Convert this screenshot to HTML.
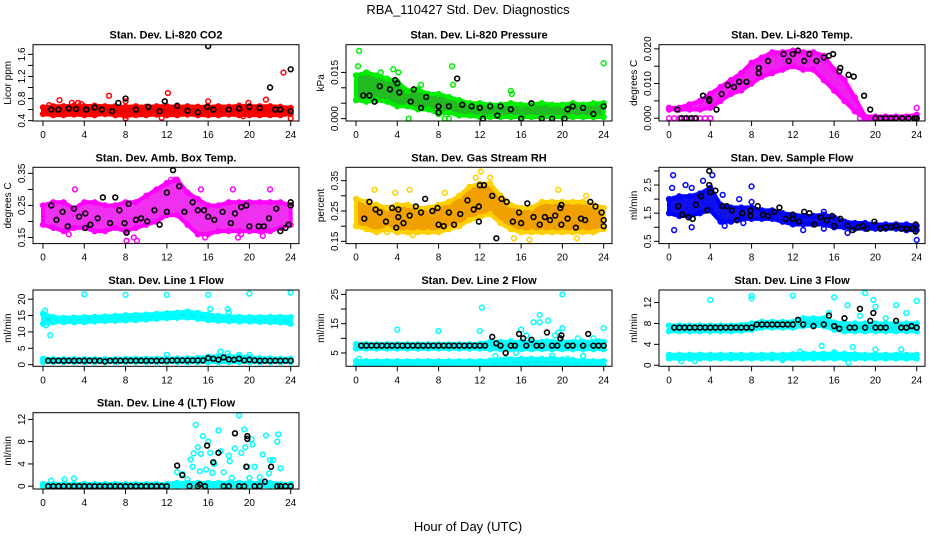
<!DOCTYPE html>
<html><head><meta charset="utf-8">
<style>
html,body{margin:0;padding:0;background:#fff;}
svg{display:block;font-family:"Liberation Sans",Arial,sans-serif;}
</style></head>
<body>
<svg id="chart" width="936" height="540" viewBox="0 0 936 540" xmlns="http://www.w3.org/2000/svg">
<text x="468" y="14" text-anchor="middle" font-size="13">RBA_110427  Std. Dev. Diagnostics</text>
<text x="468" y="531" text-anchor="middle" font-size="13">Hour of Day (UTC)</text>
</svg>
<script>
const BAND_H=[0,1,2,3,4,5,6,7,8,9,10,11,12,13,14,15,16,17,18,19,20,21,22,23,24];
const X_TICKS=[0,4,8,12,16,20,24];

// Panel 1 CO2
const co2Lo=[0.52,0.5,0.5,0.51,0.5,0.5,0.52,0.5,0.49,0.5,0.5,0.51,0.5,0.5,0.51,0.5,0.5,0.5,0.51,0.5,0.5,0.5,0.5,0.5,0.52];
const co2Hi=[0.64,0.66,0.66,0.67,0.66,0.67,0.66,0.66,0.65,0.66,0.65,0.66,0.66,0.65,0.66,0.65,0.65,0.66,0.65,0.67,0.66,0.66,0.66,0.65,0.63];
const co2Extra=[[1.6,0.77],[2.8,0.72],[3.4,0.72],[6.4,0.85],[8,0.75],[12.1,0.9],[14,0.52],[16,0.75],[19.9,0.72],[21.6,0.78],[23.3,1.27],[24,0.44],[8,0.44],[11.5,0.45],[19.4,0.48],[0.6,0.68],[3.7,0.7]];
const co2Blk=[[0.8,0.6],[1.5,0.6],[2.5,0.62],[3.2,0.61],[4.2,0.6],[5,0.64],[5.7,0.6],[6.7,0.57],[7.3,0.72],[8,0.8],[9,0.6],[10.2,0.65],[11.3,0.57],[11.8,0.75],[13,0.67],[14,0.58],[15,0.55],[15.9,0.65],[16,1.75],[16.5,0.6],[18,0.6],[19,0.62],[20,0.65],[21,0.63],[22,1.0],[22.5,0.6],[23,0.6],[24,1.33],[24,0.57]];
const co2Ticks=[0.4,0.6,0.8,1.0,1.2,1.4,1.6];
const co2Labels=["0.4","","0.8","","1.2","","1.6"];

// Panel 2 Pressure
const presLo=[0.006,0.0055,0.006,0.0055,0.004,0.004,0.003,0.003,0.0015,0.002,0.001,0.001,0.0005,0.0005,0.0005,0.0005,0.0005,0.0005,0.0005,0.0005,0.0005,0.0005,0.0005,0.0005,0.0005];
const presHi=[0.014,0.015,0.014,0.013,0.012,0.009,0.0095,0.008,0.008,0.007,0.006,0.005,0.005,0.0045,0.0045,0.005,0.0045,0.0045,0.005,0.0045,0.0045,0.005,0.0045,0.005,0.005];
const presExtra=[[0.3,0.022],[0.2,0.017],[3.6,0.016],[9.3,0.017],[9.4,0.011],[5.1,0],[8.6,0],[9,0],[15,0.009],[15.1,0.008],[24,0.018],[2.4,0.015],[4.1,0.015],[6.3,0.011]];
const presBlk=[[0.7,0.0075],[1.3,0.0075],[1.8,0.0055],[2.3,0.0105],[3.3,0.0095],[3.8,0.0125],[4,0.0115],[4.2,0.0085],[5.3,0.0055],[5.6,0.0095],[6.3,0.0035],[6.8,0.007],[8,0.004],[8,0.002],[9,0.004],[9.8,0.013],[10.3,0.0045],[11.2,0.004],[12,0.0035],[12.3,0],[13,0.004],[13.7,0.001],[14,0.004],[15,0.003],[16,0],[17,0.005],[18,0],[19,0],[20.2,0],[20.5,0.003],[21,0.004],[22,0.0035],[23,0.0015],[24,0.004]];
const presTicks=[0,0.005,0.010,0.015];
const presLabels=["0.000","","","0.015"];

// Panel 3 Temp
const tempLo=[0.0025,0.0025,0.0025,0.0025,0.003,0.005,0.007,0.008,0.010,0.012,0.013,0.014,0.015,0.014,0.014,0.011,0.008,0.005,0.002,0,0,0,0,0,0];
const tempHi=[0.003,0.003,0.004,0.005,0.007,0.009,0.011,0.013,0.016,0.0175,0.019,0.019,0.0195,0.019,0.019,0.018,0.014,0.011,0.006,0.0005,0.0005,0.0005,0.0005,0.0005,0.001];
const tempExtra=[[0,0],[0.5,0],[1,0],[1.5,0],[2,0],[2.5,0],[3,0],[3.5,0],[4,0],[18.5,0],[19,0],[19.5,0],[20,0],[21,0],[22,0],[23,0],[24,0],[24,0.003]];
const tempBlk=[[0.8,0.0025],[1.2,0],[1.7,0],[2.2,0],[2.6,0],[3.3,0.0065],[3.9,0.0055],[3.9,0.005],[4.6,0.0025],[5.1,0.007],[5.7,0.0095],[6.3,0.009],[6.8,0.0105],[7.5,0.0105],[8.7,0.013],[8.7,0.0145],[9.6,0.0165],[11.1,0.0185],[11.6,0.0165],[12,0.0185],[12.5,0.0195],[13.1,0.0165],[13.6,0.0185],[14.3,0.0165],[15,0.0175],[15.5,0.018],[15.9,0.0185],[16.5,0.0135],[16.6,0.0145],[17.4,0.0125],[17.9,0.012],[18.9,0.0065],[19.5,0.0025],[20,0],[20.5,0],[21,0],[21.5,0],[22,0],[22.6,0],[23.2,0],[23.8,0],[24,0]];
const tempTicks=[0,0.005,0.010,0.015,0.020];
const tempLabels=["0.000","","0.010","","0.020"];

// Panel 4 Amb box temp
const ambLo=[0.19,0.18,0.17,0.18,0.18,0.17,0.17,0.18,0.17,0.18,0.19,0.20,0.22,0.22,0.19,0.16,0.16,0.17,0.17,0.17,0.17,0.17,0.17,0.18,0.19];
const ambHi=[0.25,0.26,0.26,0.24,0.26,0.26,0.25,0.25,0.26,0.26,0.28,0.30,0.32,0.33,0.29,0.27,0.25,0.25,0.26,0.26,0.26,0.26,0.26,0.26,0.25];
const ambExtra=[[3.1,0.30],[8.1,0.14],[9.1,0.14],[8.8,0.15],[12.4,0.33],[12.8,0.33],[15.3,0.30],[15.7,0.15],[18.4,0.30],[18.9,0.15],[22,0.30],[21.3,0.155],[2.5,0.16],[19.2,0.16]];
const ambBlk=[[0.8,0.25],[1.3,0.205],[1.9,0.23],[2.4,0.185],[3.0,0.24],[3.5,0.215],[4.1,0.225],[4.1,0.18],[4.6,0.19],[5.3,0.21],[5.8,0.275],[6.5,0.195],[7.0,0.275],[7.4,0.235],[7.9,0.195],[8.1,0.165],[8.3,0.255],[9.0,0.205],[9.5,0.21],[10.1,0.2],[10.8,0.235],[11.3,0.19],[12,0.29],[12,0.23],[12.6,0.36],[13.2,0.31],[13.7,0.23],[14.5,0.26],[15.0,0.235],[15.6,0.235],[16.0,0.215],[16.6,0.205],[17.4,0.23],[18.2,0.195],[18.6,0.225],[19.2,0.245],[19.7,0.25],[20.0,0.185],[20.9,0.185],[21.4,0.185],[21.9,0.21],[22.6,0.24],[23,0.17],[23.5,0.18],[23.8,0.19],[24,0.26],[24,0.25]];
const ambTicks=[0.15,0.20,0.25,0.30,0.35];
const ambLabels=["0.15","","0.25","","0.35"];

// Panel 5 Gas stream RH
const rhLo=[0.2,0.19,0.18,0.19,0.18,0.18,0.18,0.18,0.18,0.19,0.2,0.22,0.23,0.24,0.21,0.19,0.18,0.18,0.18,0.18,0.18,0.18,0.18,0.18,0.19];
const rhHi=[0.29,0.28,0.27,0.26,0.27,0.27,0.26,0.26,0.27,0.28,0.3,0.33,0.34,0.34,0.3,0.27,0.26,0.26,0.28,0.28,0.28,0.28,0.28,0.27,0.26];
const rhExtra=[[1.8,0.32],[3.8,0.31],[5.2,0.32],[8.6,0.31],[12.1,0.38],[13,0.36],[11.6,0.36],[15.3,0.16],[16.8,0.155],[19.6,0.32],[21.4,0.16],[22.3,0.3],[3,0.18],[5.5,0.17]];
const rhBlk=[[0.8,0.225],[1.3,0.28],[1.9,0.255],[2.3,0.245],[2.9,0.215],[3.5,0.26],[3.9,0.195],[4.1,0.23],[4.1,0.255],[4.6,0.21],[5.2,0.235],[5.8,0.265],[6.3,0.245],[6.7,0.29],[7.4,0.25],[7.9,0.26],[8,0.205],[8.5,0.2],[9,0.245],[9.5,0.205],[10.1,0.24],[10.8,0.285],[11.4,0.255],[11.9,0.265],[11.9,0.215],[12,0.335],[12.4,0.335],[13.2,0.3],[13.6,0.16],[14.1,0.29],[14.6,0.28],[15.2,0.215],[15.8,0.245],[16,0.21],[16.6,0.275],[17.2,0.23],[17.8,0.205],[18.3,0.23],[18.8,0.22],[19.3,0.235],[19.8,0.26],[19.9,0.205],[19.9,0.27],[20.5,0.225],[21.3,0.195],[21.8,0.225],[22.2,0.22],[22.7,0.28],[23.2,0.265],[23.8,0.245],[24,0.22],[24,0.2]];
const rhTicks=[0.15,0.20,0.25,0.30,0.35];
const rhLabels=["0.15","","0.25","","0.35"];

// Panel 6 Sample flow
const sfLo=[1.5,1.4,1.4,1.5,1.6,1.2,1.2,1.3,1.3,1.3,1.3,1.2,1.1,1.1,1.1,1.1,1.0,1.0,0.95,0.95,0.95,0.95,0.95,0.9,0.9];
const sfHi=[2.0,2.1,2.1,2.2,2.4,1.8,1.7,1.7,1.7,1.6,1.6,1.5,1.45,1.4,1.4,1.45,1.35,1.2,1.15,1.15,1.1,1.1,1.1,1.1,1.05];
const sfExtra=[[0.4,2.85],[0.3,2.4],[0.5,0.9],[1.6,2.5],[2.2,1.0],[2.2,2.4],[3.3,2.65],[4.2,2.85],[5.2,2.15],[6.8,2.0],[8.0,2.45],[8.0,1.9],[7.2,1.15],[13,0.9],[15,1.55],[15,0.95],[17.3,0.8],[24,0.55],[5.4,1.05]];
const sfBlk=[[0.9,1.75],[1.3,1.45],[1.9,1.35],[2.3,1.3],[2.6,1.8],[3.1,2.1],[3.7,1.6],[3.9,3.0],[3.9,2.5],[4.0,2.25],[4.5,2.3],[5.2,1.75],[5.6,1.75],[6.1,1.6],[6.6,1.25],[7.1,1.5],[7.9,1.6],[7.9,1.4],[8.6,1.75],[9.1,1.45],[9.6,1.4],[10.2,1.55],[10.7,1.7],[11.3,1.3],[12,1.45],[12,1.3],[12.6,1.2],[13.1,1.55],[13.6,1.5],[14.1,1.1],[14.7,1.35],[15.3,1.25],[15.8,1.4],[16,1.05],[16.6,1.3],[17.3,1.05],[17.8,0.9],[18.3,1.0],[18.8,1.05],[19.2,0.95],[19.9,1.2],[20.5,0.95],[21,1.0],[21.5,1.0],[22,1.05],[22.5,0.95],[23,0.95],[23.6,0.95],[23.9,1.1],[23.9,0.85]];
const sfTicks=[0.5,1.0,1.5,2.0,2.5,3.0];
const sfLabels=["0.5","","1.5","","2.5",""];

// Panel 7 Line 1 flow
const l1UpLo=[12.5,13,13,13,13,13.2,13.3,13.4,13.5,13.6,13.8,14,14.2,14.3,14.4,14,13.6,13.4,13.3,13.2,13.2,13.1,13,12.9,12.5];
const l1UpHi=[15.5,14.5,14.3,14.4,14.5,14.6,14.7,14.9,15.1,15.2,15.3,15.5,15.7,15.9,16.2,15.8,15.3,14.9,14.7,14.6,14.5,14.5,14.6,14.6,14.5];
const l1LowLo=[0.8,0.8,0.8,0.8,0.8,0.8,0.8,0.8,0.8,0.8,0.8,0.8,0.8,0.8,0.8,0.8,0.8,0.8,0.8,0.8,0.8,0.8,0.8,0.8,0.8];
const l1LowHi=[1.8,1.7,1.7,1.7,1.7,1.7,1.7,1.7,1.8,1.8,1.8,1.8,1.9,1.9,1.9,2.0,2.4,2.6,2.5,2.4,2.2,2.0,1.9,1.8,1.8];
const l1Extra=[[0.3,12],[0.7,9],[0.2,16.5],[4,21.5],[8,21.3],[12,21.3],[16,21.3],[20,21.7],[24,22],[16.2,17],[17.9,17],[18,16],[12,3],[17.2,4],[17.9,3.5],[19,3],[20,3]];
const l1Blk=[[0.5,1.2],[1,1.2],[1.5,1.2],[2,1.2],[2.5,1.2],[3,1.2],[3.5,1.2],[4,1.2],[4.5,1.2],[5,1.2],[5.5,1.2],[6,1.0],[6.5,1.2],[7,1.2],[7.5,1.2],[8,1.2],[8.5,1.2],[9,1.2],[9.5,1.2],[10,1.2],[10.5,1.2],[11,1.2],[11.5,1.2],[12,1.2],[12.5,1.3],[13,1.3],[13.5,1.3],[14,1.3],[14.5,1.3],[15,1.3],[15.5,1.3],[16,2.0],[16.5,1.8],[17,1.5],[17.5,2.2],[18,1.6],[18.5,1.5],[19,1.8],[19.5,1.3],[20,1.5],[20.5,1.3],[21,1.2],[21.5,1.2],[22,1.2],[22.5,1.2],[23,1.2],[23.5,1.2],[24,1.2]];
const l1Ticks=[0,5,10,15,20];
const l1Labels=["0","5","10","15","20"];

// Panel 8 Line 2 flow
const l2UpLo=[6.5,6.5,6.5,6.5,6.5,6.5,6.5,6.5,6.5,6.5,6.5,6.5,6.5,6.3,6.3,6.3,6.3,6.3,6.3,6.3,6.3,6.3,6.3,6.3,6.3];
const l2UpHi=[8.0,8.0,8.0,8.0,8.0,8.0,8.0,8.0,8.0,8.0,8.0,8.0,8.2,8.8,8.8,8.8,8.8,8.8,8.8,8.8,8.8,8.8,8.8,8.8,8.8];
const l2LowLo=[0.6,0.6,0.6,0.6,0.6,0.6,0.6,0.6,0.6,0.6,0.6,0.6,0.6,0.6,0.6,0.6,0.6,0.6,0.6,0.6,0.6,0.6,0.6,0.6,0.6];
const l2LowHi=[2.2,2.2,2.2,2.2,2.2,2.2,2.2,2.2,2.2,2.2,2.2,2.2,2.2,2.4,2.6,2.8,3.0,3.0,3.0,3.0,2.8,2.6,2.4,2.2,2.2];
const l2Extra=[[0.3,3],[4,13],[8,12.5],[12,12.5],[12.2,20.5],[14.5,3],[15.5,5],[16,13],[16.5,11],[17.2,15.5],[17.8,18],[17.8,15.5],[18.6,16],[19,4],[19.6,12],[20,25],[20,13.5],[20.5,3],[21,8],[22,4],[23,10],[24,13.5],[13.5,4],[15,9],[18.5,9],[19.3,11],[21.5,10],[23.5,9]];
const l2Blk=[[0.5,7.5],[1,7.5],[1.5,7.5],[2,7.5],[2.5,7.5],[3,7.5],[3.5,7.5],[4,7.5],[4.5,7.5],[5,7.5],[5.5,7.5],[6,7.5],[6.5,7.5],[7,7.5],[7.5,7.5],[8,7.5],[8.5,7.5],[9,7.5],[9.5,7.5],[10,7.5],[10.5,7.5],[11,7.5],[11.5,7.5],[12,7.5],[12.5,7.5],[13.2,10.5],[13.6,8.3],[14,7.5],[14.5,5],[15,7.5],[15.4,7.5],[15.8,11.5],[16.2,10],[16.5,7.5],[17,9.5],[17.5,7.5],[18,7.5],[18.5,12],[19,7.5],[19.5,7.5],[19.8,10],[19.9,11],[20.5,7.5],[21,7.5],[22,7.5],[22.5,11.5],[23,7.5],[23.5,7.5],[24,7.5]];
const l2Ticks=[5,10,15,20,25];
const l2Labels=["5","","15","","25"];

// Panel 9 Line 3 flow
const l3UpLo=[6.5,6.5,6.5,6.5,6.5,6.5,6.5,6.6,6.8,7.2,7.2,7.2,7.2,7.5,7.5,7.5,6.8,6.5,6.5,6.5,6.5,6.5,6.5,6.5,6.5];
const l3UpHi=[7.6,7.6,7.6,7.6,7.6,7.6,7.6,7.7,8.0,8.3,8.3,8.3,8.3,9.0,9.0,9.0,8.2,8.0,8.0,8.0,8.0,8.0,8.0,8.0,8.0];
const l3LowLo=[1.3,1.3,1.3,1.3,1.3,1.3,1.3,1.3,1.3,1.3,1.3,1.3,1.3,1.3,1.3,1.3,1.3,1.3,1.3,1.3,1.3,1.3,1.3,1.3,1.3];
const l3LowHi=[2.0,2.0,2.0,2.0,2.0,2.0,2.0,2.0,2.0,2.0,2.0,2.0,2.1,2.2,2.2,2.2,2.2,2.2,2.1,2.0,2.0,2.0,2.0,2.0,2.0];
const l3Extra=[[4,12.5],[8,12.8],[8,13.3],[12,13.3],[14.8,3.7],[15.5,10],[16,13],[17.3,11.5],[17.4,0.5],[18,7],[18.5,9.5],[19,13.8],[19.8,12.5],[20,11.2],[20,3],[21,9],[22,11.5],[22.5,3],[23,10],[24,12.3],[16,2.5],[17.8,3.5],[12.7,2.6],[1.2,0.8],[2.5,0.8],[11,1]];
const l3Blk=[[0.5,7.2],[1,7.2],[1.5,7.2],[2,7.2],[2.5,7.2],[3,7.2],[3.5,7.2],[4,7.2],[4.5,7.2],[5,7.2],[5.5,7.2],[6,7.2],[6.5,7.2],[7,7.2],[7.5,7.2],[8,7.2],[8.5,7.8],[9,7.8],[9.5,7.8],[10,7.8],[10.5,7.8],[11,7.8],[11.5,7.8],[12,7.8],[12.5,8.7],[13,7.8],[14,7.5],[15,7.8],[15.5,9.5],[16,7.5],[16.5,7],[17,9],[17.5,7.2],[18,7.2],[18.5,10.8],[19,7.2],[19.5,8.5],[19.8,10],[20,7.2],[20.5,7.2],[21,7.2],[22,8.5],[22.5,7.2],[23,7.2],[23.5,7.5],[24,7.2]];
const l3Ticks=[0,4,8,12];
const l3Labels=["0","4","8","12"];

// Panel 10 Line 4 (LT) flow
const l4Lo=[0,0,0,0,0,0,0,0,0,0,0,0,0,0,0,0,0,0,0,0,0,0,0,0,0];
const l4Hi=[0.4,0.4,0.4,0.4,0.4,0.4,0.4,0.4,0.4,0.4,0.4,0.4,0.4,0.6,0.6,0.6,0.6,0.6,0.6,0.6,0.6,0.6,0.6,0.4,0.4];
const l4Extra=[[0.8,1.0],[2.1,1.2],[3,1.4],[4,0.3],[13,2.5],[13.5,2.2],[14,1.2],[14.3,4.8],[14.5,3.5],[14.6,5.9],[14.8,11],[15,7],[15.2,2.7],[15.3,5.8],[15.5,9],[15.8,3],[16,8],[16.2,6],[16.4,2.4],[16.6,4],[17,10],[17.2,6.3],[17.5,2.5],[18,5.5],[18.1,4.5],[18.3,1.5],[18.6,6.8],[19,12.7],[19.2,6],[19.5,10.2],[19.6,7],[19.8,3.5],[20,1.5],[20.2,8.4],[20.3,7.5],[20.5,3.5],[21,1.6],[21.3,5.7],[21.6,9.1],[21.9,2.3],[22,4.7],[22.3,4.7],[22.7,8],[22.8,9.3],[23,3.2]];
const l4Blk=[[0.5,0],[1,0],[1.5,0],[2,0],[2.5,0],[3,0],[3.5,0],[4,0],[4.5,0],[5,0],[5.5,0],[6,0],[6.5,0],[7,0],[7.5,0],[8,0],[8.5,0],[9,0],[9.5,0],[10,0],[10.5,0],[11,0],[11.5,0],[12,0],[13,3.7],[13.5,2],[14.2,0],[15,0],[15.2,0.3],[15.7,0],[15.9,7.3],[16.5,4.3],[17,6],[17.5,0],[18,0],[18.6,9.5],[19,0],[19.5,0],[19.7,3.5],[19.8,9],[19.8,8.5],[20.5,0],[21,0],[21.5,0.8],[22.1,3.5],[22.7,0],[23,0],[23.5,0],[24,0]];
const l4Ticks=[0,4,8,12];
const l4Labels=["0","4","8","12"];

const panels=[
 {name:"co2",col:0,row:0,title:"Stan. Dev. Li-820 CO2",ylab:"Licor ppm",ylim:[0.393,1.775],ticks:co2Ticks,labels:co2Labels,color:"#ff0000",fill:"#ee0000",bands:[[co2Lo,co2Hi]],extra:co2Extra,blk:co2Blk},
 {name:"pressure",col:1,row:0,title:"Stan. Dev. Li-820 Pressure",ylab:"kPa",ylim:[-0.00078,0.0240],ticks:presTicks,labels:presLabels,color:"#00ee00",fill:"#22bb22",bands:[[presLo,presHi]],extra:presExtra,blk:presBlk},
 {name:"temp",col:2,row:0,title:"Stan. Dev. Li-820 Temp.",ylab:"degrees C",ylim:[-0.0008,0.0212],ticks:tempTicks,labels:tempLabels,color:"#ff00ff",fill:"#f020f0",bands:[[tempLo,tempHi]],extra:tempExtra,blk:tempBlk},
 {name:"amb-box-temp",col:0,row:1,title:"Stan. Dev. Amb. Box Temp.",ylab:"degrees C",ylim:[0.131,0.369],ticks:ambTicks,labels:ambLabels,color:"#ff00ff",fill:"#f030f0",bands:[[ambLo,ambHi]],extra:ambExtra,blk:ambBlk},
 {name:"gas-stream-rh",col:1,row:1,title:"Stan. Dev. Gas Stream RH",ylab:"percent",ylim:[0.1425,0.394],ticks:rhTicks,labels:rhLabels,color:"#ffd000",fill:"#f0a000",bands:[[rhLo,rhHi]],extra:rhExtra,blk:rhBlk},
 {name:"sample-flow",col:2,row:1,title:"Stan. Dev. Sample Flow",ylab:"ml/min",ylim:[0.42,3.13],ticks:sfTicks,labels:sfLabels,color:"#0000ff",fill:"#1010ee",bands:[[sfLo,sfHi]],extra:sfExtra,blk:sfBlk},
 {name:"line1-flow",col:0,row:2,title:"Stan. Dev. Line 1 Flow",ylab:"ml/min",ylim:[-0.5,22.8],ticks:l1Ticks,labels:l1Labels,color:"#00ffff",fill:"#00eeee",bands:[[l1UpLo,l1UpHi],[l1LowLo,l1LowHi]],extra:l1Extra,blk:l1Blk},
 {name:"line2-flow",col:1,row:2,title:"Stan. Dev. Line 2 Flow",ylab:"ml/min",ylim:[0.45,26.5],ticks:l2Ticks,labels:l2Labels,color:"#00ffff",fill:"#00eeee",bands:[[l2UpLo,l2UpHi],[l2LowLo,l2LowHi]],extra:l2Extra,blk:l2Blk},
 {name:"line3-flow",col:2,row:2,title:"Stan. Dev. Line 3 Flow",ylab:"ml/min",ylim:[-0.2,14.4],ticks:l3Ticks,labels:l3Labels,color:"#00ffff",fill:"#00eeee",bands:[[l3UpLo,l3UpHi],[l3LowLo,l3LowHi]],extra:l3Extra,blk:l3Blk},
 {name:"line4-flow",col:0,row:3,title:"Stan. Dev. Line 4 (LT) Flow",ylab:"ml/min",ylim:[-0.5,13.2],ticks:l4Ticks,labels:l4Labels,color:"#00ffff",fill:"#00eeee",bands:[[l4Lo,l4Hi]],extra:l4Extra,blk:l4Blk}
];

const NS="http://www.w3.org/2000/svg";
const svg=document.getElementById("chart");
const ROW_TOP=[44.7,167.3,290,412.7];
function mk(tag,attrs,parent){const e=document.createElementNS(NS,tag);for(const k in attrs)e.setAttribute(k,attrs[k]);parent.appendChild(e);return e;}

panels.forEach(p=>{
  const left=33+313*p.col, right=left+266, top=ROW_TOP[p.row], bottom=top+76.3;
  const hx=h=>left+10+h*247.7/24;
  const vy=v=>bottom-(v-p.ylim[0])/(p.ylim[1]-p.ylim[0])*(bottom-top);
  const g=mk("g",{},svg);
  
  
  const clipId="clip-"+p.name;
  const cp=mk("clipPath",{id:clipId},g); mk("rect",{x:left,y:top,width:right-left,height:bottom-top},cp);
  const t=mk("text",{x:(left+right)/2,y:top-6,"text-anchor":"middle","font-size":"11","font-weight":"bold"},g);
  t.textContent=p.title;
  
  
  const marks=mk("g",{"clip-path":"url(#"+clipId+")"},g);
  p.bands.forEach(([lo,hi])=>{
    let pts=BAND_H.map((h,i)=>hx(h)+","+vy(hi[i]));
    pts=pts.concat(BAND_H.slice().reverse().map((h,j)=>{const i=BAND_H.length-1-j;return hx(h)+","+vy(lo[i]);}));
    const poly=mk("polygon",{points:pts.join(" "),fill:p.fill,stroke:p.color,"stroke-width":"4","stroke-linejoin":"round"},marks);
    
    
    BAND_H.forEach((h,i)=>{
      [lo[i],hi[i]].forEach(v=>{
        const c=mk("circle",{cx:hx(h),cy:vy(v),r:2.4,fill:"none",stroke:p.color,"stroke-width":"1.5"},marks);
        
        
      });
    });
  });
  p.extra.forEach(([h,v])=>{
    const c=mk("circle",{cx:hx(h),cy:vy(v),r:2.4,fill:"none",stroke:p.color,"stroke-width":"1.5"},marks);
    
    
  });
  p.blk.forEach(([h,v])=>{
    const c=mk("circle",{cx:hx(h),cy:vy(v),r:2.4,fill:"none",stroke:"#000","stroke-width":"1.6"},marks);
    
    
  });
  const box=mk("rect",{x:left,y:top,width:right-left,height:bottom-top,fill:"none",stroke:"#000","stroke-width":"1"},g);
  
  
  X_TICKS.forEach(h=>{
    mk("line",{x1:hx(h),x2:hx(h),y1:bottom,y2:bottom+5,stroke:"#000"},g);
    const tl=mk("text",{x:hx(h),y:bottom+17,"text-anchor":"middle","font-size":"10"},g);
    tl.textContent=h;
    
    
  });
  p.ticks.forEach((v,i)=>{
    const y=vy(v);
    mk("line",{x1:left-5,x2:left,y1:y,y2:y,stroke:"#000"},g);
    if(p.labels[i]){
      const tl=mk("text",{x:left-8,y:y,"text-anchor":"middle","font-size":"10",transform:"rotate(-90 "+(left-8)+" "+y+")"},g);
      tl.textContent=p.labels[i];
      
      
    }
  });
  const yl=mk("text",{x:left-22,y:(top+bottom)/2,"text-anchor":"middle","font-size":"10",transform:"rotate(-90 "+(left-22)+" "+((top+bottom)/2)+")"},g);
  yl.textContent=p.ylab;
  
  
});
</script>
</body></html>
